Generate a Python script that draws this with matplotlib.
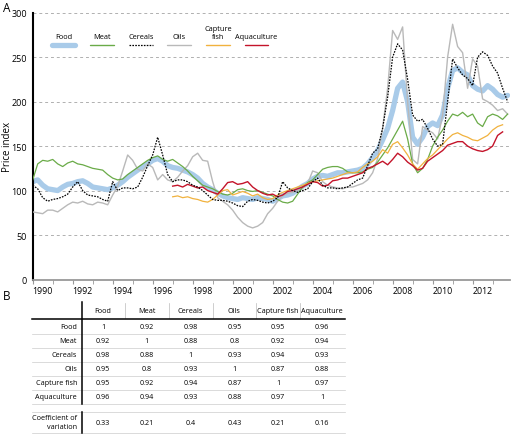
import matplotlib.pyplot as plt
import numpy as np

plt.rcParams['font.family'] = ['Open Sans', 'DejaVu Sans']

# quarterly price index values, starting 1990 Q1
food = [110, 112, 106, 102,
        101, 100, 104, 107,
        108, 110, 111, 108,
        104, 103, 102, 101,
        103, 106, 110, 115,
        119, 123, 127, 130,
        134, 136, 133, 128,
        126, 125, 123, 121,
        118, 114, 108, 104,
        101, 97, 94, 92,
        91, 90, 92, 91,
        90, 92, 91, 90,
        88, 91, 94, 95,
        97, 101, 105, 108,
        113, 116, 117, 116,
        118, 120, 120, 121,
        122, 123, 125, 130,
        137, 145, 157, 170,
        190, 215, 222, 200,
        160, 152, 160, 172,
        176, 173, 185, 215,
        235, 238, 233, 230,
        218, 214, 212, 218,
        214, 208, 205, 207]

meat = [112, 130, 134, 133,
        135, 130, 127, 131,
        133, 130, 129, 127,
        125, 124, 123, 118,
        114, 112, 113, 118,
        122, 126, 130, 134,
        137, 139, 135, 133,
        135, 131, 127, 122,
        116, 111, 106, 104,
        102, 99, 96, 95,
        97, 101, 102, 100,
        99, 100, 98, 96,
        94, 90, 87, 86,
        88, 96, 104, 109,
        112, 118, 124, 126,
        127, 127, 125, 121,
        120, 120, 121, 124,
        126, 132, 140, 148,
        158, 168, 178, 158,
        130, 120, 125, 135,
        150, 160, 168, 178,
        186, 184, 188, 183,
        186, 176, 172, 183,
        186, 184, 180, 186]

cereals = [106, 102, 92, 88,
           90, 91, 93, 96,
           104, 110, 100, 95,
           94, 93, 90, 88,
           110, 100, 103, 103,
           102, 104, 115, 128,
           140, 160, 140, 118,
           110, 112, 112, 110,
           106, 104, 100, 95,
           90, 89, 89, 88,
           86, 83, 82, 88,
           90, 89, 87, 86,
           88, 92, 110, 103,
           100, 98, 100, 102,
           110, 114, 106, 103,
           103, 102, 103, 104,
           108, 112, 114, 128,
           142, 147, 170, 205,
           250, 265, 258, 225,
           185, 178, 180, 170,
           158, 150, 152, 200,
           248, 238, 230, 226,
           218, 250, 256, 252,
           240, 232, 215, 200]

oils = [76, 75, 74, 78,
        78, 76, 80, 84,
        87, 86, 88, 85,
        84, 87, 86, 84,
        95, 105, 122, 140,
        134, 124, 122, 130,
        126, 112, 118, 112,
        110, 115, 122, 128,
        138, 142, 134, 133,
        110, 92, 88, 84,
        78, 70, 64, 60,
        58, 60, 64, 74,
        80, 88, 94, 97,
        98, 100, 103, 108,
        122, 120, 110, 106,
        104, 103, 102, 104,
        104, 106, 108, 112,
        120, 136, 170, 215,
        280, 270, 284, 200,
        135, 130, 172, 168,
        165, 158, 185, 250,
        287, 262, 255, 215,
        248, 240, 203, 200,
        196, 190, 192, 186]

# fish series start 1997 Q1
capture_fish = [93, 94, 92, 93,
                91, 90, 88, 87,
                90, 95, 100, 101,
                95, 97, 99, 97,
                94, 96, 92, 90,
                91, 95, 98, 100,
                102, 104, 106, 108,
                110, 111, 112, 113,
                114, 116, 118, 120,
                120, 121, 126, 130,
                133, 138, 146, 142,
                152, 155, 148, 140,
                130, 124, 130, 136,
                140, 146, 152, 158,
                163, 165, 162, 160,
                157, 156, 159, 162,
                168, 172, 174]

aquaculture = [105, 106, 104, 107,
               105, 103, 104, 100,
               98, 96, 102, 109,
               110, 107, 108, 110,
               104, 100, 97, 95,
               96, 93, 95, 99,
               100, 102, 104, 107,
               110, 109, 105, 106,
               111, 112, 114, 114,
               116, 118, 120, 125,
               127, 130, 133, 129,
               135, 142, 138, 132,
               128, 123, 125, 133,
               137, 141, 145, 151,
               153, 155, 155, 150,
               147, 145, 144, 146,
               150, 162, 166]

t_all = 1990 + 0.25 * np.arange(len(food))
t_fish = 1997 + 0.25 * np.arange(len(capture_fish))

# correlation table (panel B)
tbl_names = ['Food', 'Meat', 'Cereals', 'Oils', 'Capture fish', 'Aquaculture']
corr = [['1', '0.92', '0.98', '0.95', '0.95', '0.96'],
        ['0.92', '1', '0.88', '0.8', '0.92', '0.94'],
        ['0.98', '0.88', '1', '0.93', '0.94', '0.93'],
        ['0.95', '0.8', '0.93', '1', '0.87', '0.88'],
        ['0.95', '0.92', '0.94', '0.87', '1', '0.97'],
        ['0.96', '0.94', '0.93', '0.88', '0.97', '1']]
coef_var = ['0.33', '0.21', '0.4', '0.43', '0.21', '0.16']

c_food = '#a9cbe9'
c_meat = '#6aab48'
c_oils = '#b9b9b9'
c_fish = '#f1b23e'
c_aqua = '#c4142a'

fig = plt.figure(figsize=(5.12, 4.35), dpi=100)
W, H = 512, 435
ax = fig.add_axes([32.7 / W, 1 - 280.5 / H, 477.3 / W, 266.8 / H])

ax.plot(t_all, food, color=c_food, lw=3.8, solid_capstyle='round', zorder=2)
ax.plot(t_all, oils, color=c_oils, lw=1.0, zorder=3)
ax.plot(t_all, meat, color=c_meat, lw=0.9, zorder=3)
ax.plot(t_fish, capture_fish, color=c_fish, lw=0.9, zorder=3)
ax.plot(t_fish, aquaculture, color=c_aqua, lw=1.0, zorder=3)
ax.plot(t_all, cereals, color='black', lw=0.9, ls=(0, (1.3, 1.0)), zorder=4)

ax.set_xlim(1990, 2013.87)
ax.set_ylim(0, 300)
ax.set_yticks(range(0, 301, 50))
ax.yaxis.grid(True, ls=(0, (3, 3)), color='#b0b0b0', lw=0.7)
ax.set_axisbelow(True)
ax.tick_params(axis='y', length=0, labelsize=6.5, pad=4)

ax.set_xticks(range(1990, 2013, 2))
ax.set_xticklabels([str(y) for y in range(1990, 2013, 2)], ha='left')
ax.set_xticks(range(1991, 2014), minor=True)
ax.tick_params(axis='x', which='major', length=3, color='#999999', labelsize=6.3, pad=2)
ax.tick_params(axis='x', which='minor', length=3, color='#999999')

for s in ['top', 'right']:
    ax.spines[s].set_visible(False)
ax.spines['left'].set_linewidth(1.5)
ax.spines['bottom'].set_color('#999999')
ax.spines['bottom'].set_linewidth(1.3)
ax.set_ylabel('Price index', fontsize=7)
ax.yaxis.set_label_coords(-0.042, 0.5)

# legend drawn as in the figure: label above a short line sample
leg = [('Food', c_food, 3.8, '-'), ('Meat', c_meat, 1.0, '-'),
       ('Cereals', 'black', 0.9, (0, (1.3, 1.0))), ('Oils', c_oils, 1.0, '-'),
       ('Capture\nfish', c_fish, 1.0, '-'), ('Aquaculture', c_aqua, 1.0, '-')]
for i, (name, col, lw, ls) in enumerate(leg):
    cx = 0.0645 + 0.0809 * i
    ax.plot([cx - 0.025, cx + 0.025], [0.88, 0.88], transform=ax.transAxes,
            color=col, lw=lw, ls=ls, solid_capstyle='round', clip_on=False)
    ax.text(cx, 0.897, name, transform=ax.transAxes, ha='center', va='bottom',
            fontsize=5.3, linespacing=1.3)

# panel B table, drawn on a full-figure overlay in pixel units
tx = fig.add_axes([0, 0, 1, 1])
tx.set_xlim(0, W)
tx.set_ylim(H, 0)
tx.axis('off')

fig.text(3 / W, 1 - 9 / H, 'A', fontsize=8.5, va='center')
fig.text(3 / W, 1 - 297 / H, 'B', fontsize=8.5, va='center')

col_x = 103 + 43.8 * np.arange(len(tbl_names))
row_y = 328 + 14 * np.arange(len(tbl_names))
fs = 5.2
for j, name in enumerate(tbl_names):
    tx.text(col_x[j], 312, name, ha='center', va='center', fontsize=fs)
for j in range(1, len(tbl_names)):
    sx = (col_x[j - 1] + col_x[j]) / 2
    tx.plot([sx, sx], [304, 319], color='#bbbbbb', lw=0.5)
tx.plot([32, 345], [320, 320], color='black', lw=1.1)
for i, name in enumerate(tbl_names):
    tx.text(77, row_y[i], name, ha='right', va='center', fontsize=fs)
    for j in range(len(tbl_names)):
        tx.text(col_x[j], row_y[i], corr[i][j], ha='center', va='center', fontsize=fs)
    tx.plot([32, 345], [row_y[i] + 7, row_y[i] + 7], color='#cccccc', lw=0.5)
tx.plot([82, 82], [303, 405], color='black', lw=1.1)

tx.plot([32, 345], [413, 413], color='#cccccc', lw=0.5)
tx.plot([32, 345], [434, 434], color='#cccccc', lw=0.5)
tx.plot([82, 82], [413, 434], color='black', lw=1.1)
tx.text(77, 423.5, 'Coefficient of\nvariation', ha='right', va='center',
        fontsize=fs, linespacing=1.4)
for j, v in enumerate(coef_var):
    tx.text(col_x[j], 423.5, v, ha='center', va='center', fontsize=fs)

fig.savefig('out.png', dpi=100)
